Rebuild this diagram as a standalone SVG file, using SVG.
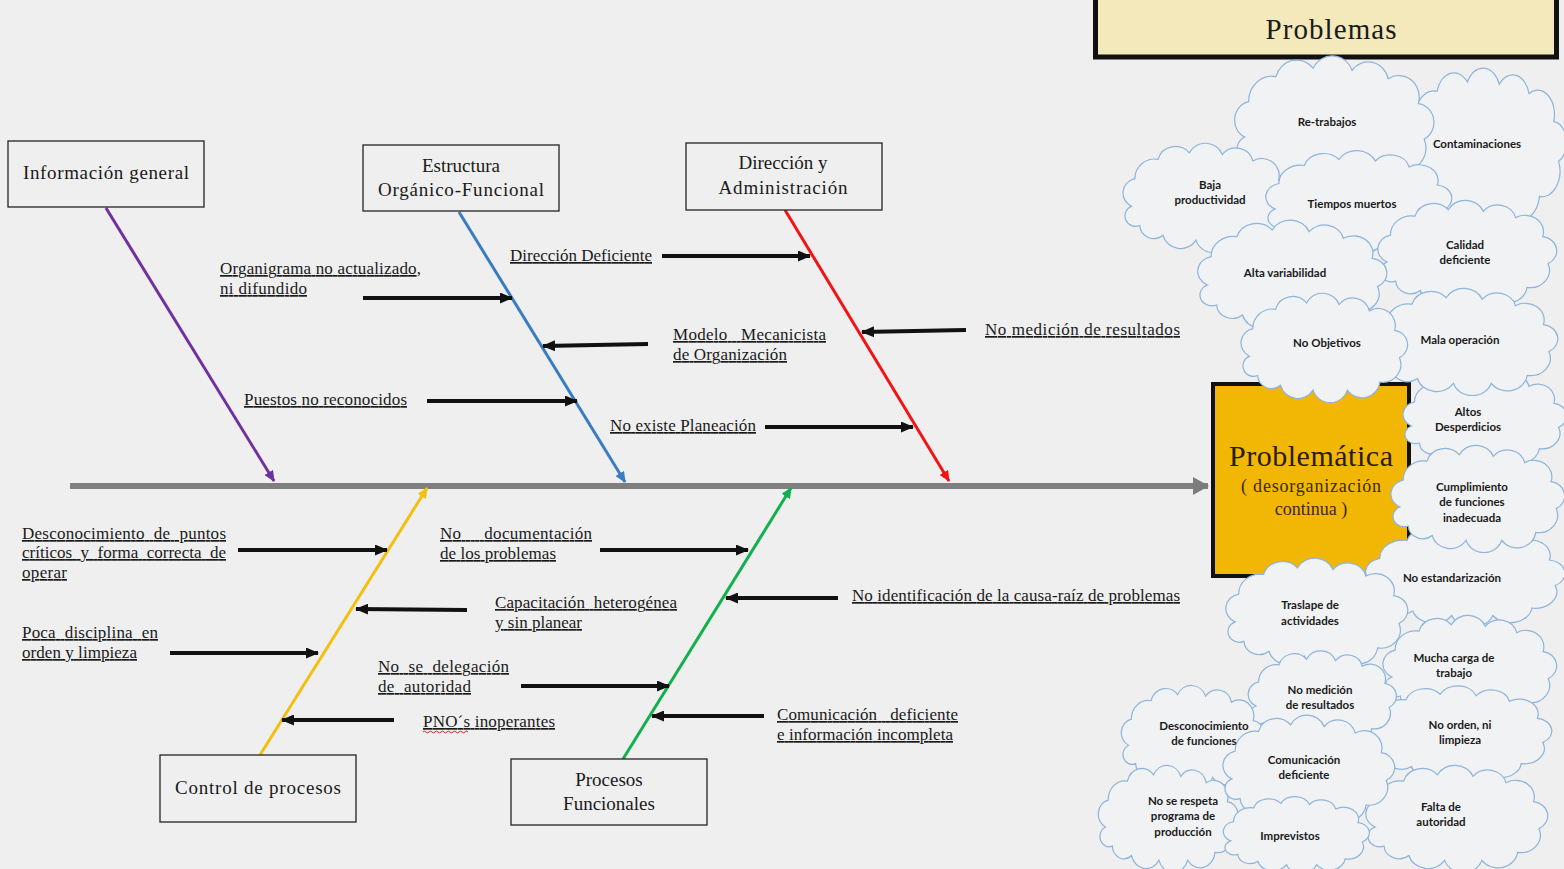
<svg xmlns="http://www.w3.org/2000/svg" xmlns:xlink="http://www.w3.org/1999/xlink" width="1564" height="869" viewBox="0 0 1564 869">
  <style>
    .bg { fill: #efefef; }
    .box { fill: #efefef; stroke: #222; stroke-width: 1.3; }
    .boxtxt { font-family: "Liberation Serif", "Times New Roman", serif; font-size: 19px; fill: #1a1a1a; text-anchor: middle; }
    .lbl { font-family: "Liberation Serif", "Times New Roman", serif; font-size: 17px; fill: #1a1a1a; text-decoration: underline; white-space: pre; }
    .cause { stroke: #111; stroke-width: 4; fill: none; marker-end: url(#ah-black); }
    .bone { stroke-width: 3; fill: none; }
    .cloud { fill: #f1f2f3; stroke: #8db4dc; stroke-width: 1.2; vector-effect: non-scaling-stroke; }
    .ctxt { font-family: Lato, "Liberation Sans", sans-serif; font-weight: 700; font-size: 11.5px; fill: #1a1a1a; text-anchor: middle; }
  </style>
  <defs>
    <marker id="ah-black" viewBox="0 0 13 11" refX="12" refY="5.5" markerWidth="13" markerHeight="11" markerUnits="userSpaceOnUse" orient="auto">
      <path d="M0,0 L13,5.5 L0,11 Z" fill="#111"/>
    </marker>
    <marker id="ah-purple" viewBox="0 0 11 10" refX="10" refY="5" markerWidth="11" markerHeight="10" markerUnits="userSpaceOnUse" orient="auto">
      <path d="M0,0 L11,5 L0,10 Z" fill="#7030a0"/>
    </marker>
    <marker id="ah-blue" viewBox="0 0 11 10" refX="10" refY="5" markerWidth="11" markerHeight="10" markerUnits="userSpaceOnUse" orient="auto">
      <path d="M0,0 L11,5 L0,10 Z" fill="#3a7cc2"/>
    </marker>
    <marker id="ah-red" viewBox="0 0 11 10" refX="10" refY="5" markerWidth="11" markerHeight="10" markerUnits="userSpaceOnUse" orient="auto">
      <path d="M0,0 L11,5 L0,10 Z" fill="#f21414"/>
    </marker>
    <marker id="ah-yellow" viewBox="0 0 11 10" refX="10" refY="5" markerWidth="11" markerHeight="10" markerUnits="userSpaceOnUse" orient="auto">
      <path d="M0,0 L11,5 L0,10 Z" fill="#f2c010"/>
    </marker>
    <marker id="ah-green" viewBox="0 0 11 10" refX="10" refY="5" markerWidth="11" markerHeight="10" markerUnits="userSpaceOnUse" orient="auto">
      <path d="M0,0 L11,5 L0,10 Z" fill="#12b04e"/>
    </marker>
    <marker id="ah-spine" viewBox="0 0 16 18" refX="15" refY="9" markerWidth="16" markerHeight="18" markerUnits="userSpaceOnUse" orient="auto">
      <path d="M0,0 L16,9 L0,18 Z" fill="#7b7b7b"/>
    </marker>
    <!-- generic cloud outline in a 200 x 120 box -->
    <path id="cloud" class="cloud" d="M8 72 A18 18 0 0 1 12 38 A24 24 0 0 1 40 14 A22 22 0 0 1 78 6 A22 22 0 0 1 118 8 A21 21 0 0 1 155 16 A21 21 0 0 1 186 40 A18 18 0 0 1 192 74 A22 22 0 0 1 168 104 A22 22 0 0 1 128 114 A22 22 0 0 1 86 114 A22 22 0 0 1 46 108 A17 17 0 0 1 18 96 A13 13 0 0 1 8 72 Z"/>
  </defs>

  <rect class="bg" x="0" y="0" width="1564" height="869"/>

  <!-- title banner -->
  <g id="title-problemas">
    <rect x="1095.5" y="-6" width="461" height="63" fill="#f3e9bb" stroke="#111" stroke-width="5"/>
    <text x="1331" y="39" font-family="'Liberation Serif', serif" font-size="29" fill="#1a1a1a" text-anchor="middle" textLength="131">Problemas</text>
  </g>

  <!-- effect box -->
  <g id="effect">
    <rect x="1213" y="384" width="196" height="192" fill="#f2b705" stroke="#111" stroke-width="4"/>
    <text x="1311" y="466" font-family="'Liberation Serif', serif" font-size="30" fill="#2a1a08" text-anchor="middle" textLength="164">Problemática</text>
    <text x="1311" y="492" font-family="'Liberation Serif', serif" font-size="18" fill="#3a2a10" text-anchor="middle" textLength="140">( desorganización</text>
    <text x="1311" y="515" font-family="'Liberation Serif', serif" font-size="18" fill="#3a2a10" text-anchor="middle">continua )</text>
  </g>

  <!-- problem clouds -->
  <g id="clouds">
    <use xlink:href="#cloud" transform="translate(1405 75) scale(0.8 1.167)"/>
    <use xlink:href="#cloud" transform="translate(1405 375) scale(0.8 0.708)"/>
    <use xlink:href="#cloud" transform="translate(1368 530) scale(0.975 0.75)"/>
    <use xlink:href="#cloud" transform="translate(1393 450) scale(0.85 0.792)"/>
    <use xlink:href="#cloud" transform="translate(1237 62) scale(0.975 1.042)"/>
    <use xlink:href="#cloud" transform="translate(1125 148) scale(0.825 0.808)"/>
    <use xlink:href="#cloud" transform="translate(1268 155) scale(0.91 0.75)"/>
    <use xlink:href="#cloud" transform="translate(1380 205) scale(0.875 0.792)"/>
    <use xlink:href="#cloud" transform="translate(1200 225) scale(0.925 0.833)"/>
    <use xlink:href="#cloud" transform="translate(1376 293) scale(0.9 0.792)"/>
    <use xlink:href="#cloud" transform="translate(1243 298) scale(0.815 0.808)"/>
    <use xlink:href="#cloud" transform="translate(1385 620) scale(0.85 0.792)"/>
    <use xlink:href="#cloud" transform="translate(1228 563) scale(0.89 0.817)"/>
    <use xlink:href="#cloud" transform="translate(1370 690) scale(0.9 0.708)"/>
    <use xlink:href="#cloud" transform="translate(1368 770) scale(0.89 0.792)"/>
    <use xlink:href="#cloud" transform="translate(1250 655) scale(0.725 0.708)"/>
    <use xlink:href="#cloud" transform="translate(1123 690) scale(0.7 0.767)"/>
    <use xlink:href="#cloud" transform="translate(1100 770) scale(0.685 0.792)"/>
    <use xlink:href="#cloud" transform="translate(1225 720) scale(0.84 0.817)"/>
    <use xlink:href="#cloud" transform="translate(1225 800) scale(0.715 0.567)"/>

    <text class="ctxt" x="1327" y="126">Re-trabajos</text>
    <text class="ctxt" x="1477" y="148">Contaminaciones</text>
    <text class="ctxt" x="1210" y="189">Baja</text>
    <text class="ctxt" x="1210" y="204">productividad</text>
    <text class="ctxt" x="1352" y="208">Tiempos muertos</text>
    <text class="ctxt" x="1285" y="277">Alta variabilidad</text>
    <text class="ctxt" x="1465" y="249">Calidad</text>
    <text class="ctxt" x="1465" y="264">deficiente</text>
    <text class="ctxt" x="1327" y="347">No Objetivos</text>
    <text class="ctxt" x="1460" y="344">Mala operación</text>
    <text class="ctxt" x="1468" y="416">Altos</text>
    <text class="ctxt" x="1468" y="431">Desperdicios</text>
    <text class="ctxt" x="1472" y="491">Cumplimiento</text>
    <text class="ctxt" x="1472" y="506">de funciones</text>
    <text class="ctxt" x="1472" y="522">inadecuada</text>
    <text class="ctxt" x="1452" y="582">No estandarización</text>
    <text class="ctxt" x="1310" y="609">Traslape de</text>
    <text class="ctxt" x="1310" y="625">actividades</text>
    <text class="ctxt" x="1454" y="662">Mucha carga de</text>
    <text class="ctxt" x="1454" y="677">trabajo</text>
    <text class="ctxt" x="1320" y="694">No medición</text>
    <text class="ctxt" x="1320" y="709">de resultados</text>
    <text class="ctxt" x="1204" y="730">Desconocimiento</text>
    <text class="ctxt" x="1204" y="745">de funciones</text>
    <text class="ctxt" x="1460" y="729">No orden, ni</text>
    <text class="ctxt" x="1460" y="744">limpieza</text>
    <text class="ctxt" x="1304" y="764">Comunicación</text>
    <text class="ctxt" x="1304" y="779">deficiente</text>
    <text class="ctxt" x="1183" y="805">No se respeta</text>
    <text class="ctxt" x="1183" y="820">programa de</text>
    <text class="ctxt" x="1183" y="836">producción</text>
    <text class="ctxt" x="1290" y="840">Imprevistos</text>
    <text class="ctxt" x="1441" y="811">Falta de</text>
    <text class="ctxt" x="1441" y="826">autoridad</text>
  </g>

  <!-- connectors: spine, category bones and cause arrows -->
  <g id="connectors">
    <line x1="70" y1="486" x2="1208" y2="486" stroke="#7f7f7f" stroke-width="6" marker-end="url(#ah-spine)"/>

    <line class="bone" x1="106" y1="208" x2="274" y2="481" stroke="#7030a0" marker-end="url(#ah-purple)"/>
    <line class="bone" x1="459" y1="212" x2="625" y2="482" stroke="#3a7cc2" marker-end="url(#ah-blue)"/>
    <line class="bone" x1="785" y1="210" x2="949" y2="481" stroke="#f21414" marker-end="url(#ah-red)"/>
    <line class="bone" x1="260" y1="755" x2="427" y2="488" stroke="#f2c010" marker-end="url(#ah-yellow)"/>
    <line class="bone" x1="623" y1="759" x2="791" y2="488" stroke="#12b04e" marker-end="url(#ah-green)"/>

    <line class="cause" x1="363" y1="298" x2="512" y2="298"/>
    <line class="cause" x1="662" y1="256" x2="810" y2="256"/>
    <line class="cause" x1="648" y1="344" x2="543" y2="346"/>
    <line class="cause" x1="966" y1="330" x2="862" y2="332"/>
    <line class="cause" x1="427" y1="401" x2="577" y2="401"/>
    <line class="cause" x1="765" y1="427" x2="913" y2="427"/>
    <line class="cause" x1="238" y1="550" x2="387" y2="550"/>
    <line class="cause" x1="600" y1="550" x2="748" y2="550"/>
    <line class="cause" x1="467" y1="610" x2="356" y2="609"/>
    <line class="cause" x1="838" y1="598" x2="726" y2="598"/>
    <line class="cause" x1="170" y1="653" x2="318" y2="653"/>
    <line class="cause" x1="521" y1="686" x2="669" y2="686"/>
    <line class="cause" x1="394" y1="720" x2="282" y2="720"/>
    <line class="cause" x1="764" y1="716" x2="652" y2="716"/>
  </g>

  <!-- category boxes -->
  <g id="informacion-general">
    <rect class="box" x="8" y="141" width="196" height="66"/>
    <text class="boxtxt" x="106" y="179" textLength="166">Información general</text>
  </g>
  <g id="estructura">
    <rect class="box" x="363" y="145" width="196" height="66"/>
    <text class="boxtxt" x="461" y="172">Estructura</text>
    <text class="boxtxt" x="461" y="196" textLength="166">Orgánico-Funcional</text>
  </g>
  <g id="direccion">
    <rect class="box" x="686" y="143" width="196" height="67"/>
    <text class="boxtxt" x="783" y="169">Dirección y</text>
    <text class="boxtxt" x="783" y="194" textLength="129">Administración</text>
  </g>
  <g id="control-procesos">
    <rect class="box" x="160" y="755" width="196" height="67"/>
    <text class="boxtxt" x="258" y="794" textLength="166">Control de procesos</text>
  </g>
  <g id="procesos-funcionales">
    <rect class="box" x="511" y="759" width="196" height="66"/>
    <text class="boxtxt" x="609" y="786">Procesos</text>
    <text class="boxtxt" x="609" y="810">Funcionales</text>
  </g>

  <!-- cause labels -->
  <g id="causes">
    <text class="lbl" x="220" y="274" textLength="201">Organigrama no actualizado,</text>
    <text class="lbl" x="220" y="294" textLength="87">ni difundido</text>
    <text class="lbl" x="510" y="261" textLength="142">Dirección Deficiente</text>
    <text class="lbl" x="673" y="340" textLength="153" xml:space="preserve">Modelo   Mecanicista</text>
    <text class="lbl" x="673" y="360" textLength="114">de Organización</text>
    <text class="lbl" x="985" y="335" textLength="195">No medición de resultados</text>
    <text class="lbl" x="244" y="405" textLength="163">Puestos no reconocidos</text>
    <text class="lbl" x="610" y="431" textLength="146">No existe Planeación</text>
    <text class="lbl" x="22" y="539" textLength="204" xml:space="preserve">Desconocimiento  de  puntos</text>
    <text class="lbl" x="22" y="558" textLength="204" xml:space="preserve">críticos  y  forma  correcta  de</text>
    <text class="lbl" x="22" y="578" textLength="45">operar</text>
    <text class="lbl" x="440" y="539" textLength="152" xml:space="preserve">No     documentación</text>
    <text class="lbl" x="440" y="559" textLength="116">de los problemas</text>
    <text class="lbl" x="495" y="608" textLength="182" xml:space="preserve">Capacitación  heterogénea</text>
    <text class="lbl" x="495" y="628" textLength="87">y sin planear</text>
    <text class="lbl" x="852" y="601" textLength="328">No identificación de la causa-raíz de problemas</text>
    <text class="lbl" x="22" y="638" textLength="136" xml:space="preserve">Poca  disciplina  en</text>
    <text class="lbl" x="22" y="658" textLength="115">orden y limpieza</text>
    <text class="lbl" x="378" y="672" textLength="131" xml:space="preserve">No  se  delegación</text>
    <text class="lbl" x="378" y="692" textLength="93" xml:space="preserve">de  autoridad</text>
    <text class="lbl" x="423" y="727" textLength="132">PNO´s inoperantes</text>
    <text class="lbl" x="777" y="720" textLength="181" xml:space="preserve">Comunicación   deficiente</text>
    <text class="lbl" x="777" y="740" textLength="176">e información incompleta</text>
  </g>
  <!-- spell-check squiggle under the acronym -->
  <path d="M423 732 q1.5 -1.8 3 0 t3 0 t3 0 t3 0 t3 0 t3 0 t3 0 t3 0 t3 0 t3 0 t3 0 t3 0 t3 0 t3 0 t3 0" fill="none" stroke="#e0201c" stroke-width="1"/>
</svg>
